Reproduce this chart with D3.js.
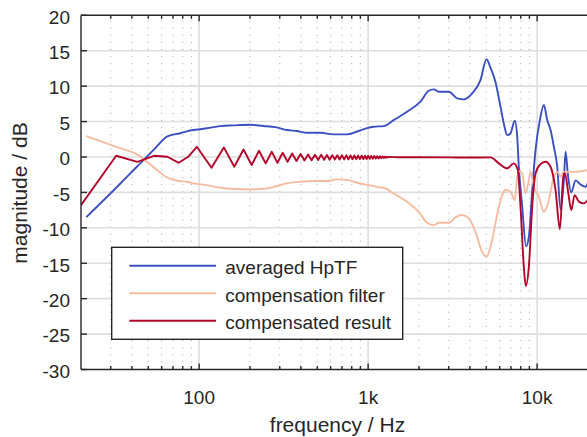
<!DOCTYPE html>
<html><head><meta charset="utf-8">
<script src="https://cdn.jsdelivr.net/npm/d3@7"></script>
<style>
body{margin:0;background:#fff}
text{font-family:"Liberation Sans",Arial,Helvetica,sans-serif;fill:#262626}
</style>
</head><body>
<svg id="c" width="587" height="437"></svg>
<script>
// ---- data ----
const xTickValues = [100, 1000, 10000];
const xTickLabels = ["100", "1k", "10k"];
const yTickValues = [-30, -25, -20, -15, -10, -5, 0, 5, 10, 15, 20];
const seriesNames = ["averaged HpTF", "compensation filter", "compensated result"];

// averaged HpTF  [frequency Hz, magnitude dB]
const hptf = [[21.5,-8.5],[32.3,-4.35],[43.1,-1.31],[54,1.04],[64.9,2.9],[77.2,3.35],[84.6,3.62],[92.5,3.8],
 [101.4,3.92],[111,4.05],[133,4.36],
 [160,4.46],[200,4.55],[240,4.38],[282,4.22],[331,3.8],[379,3.66],[435,3.42],[521,3.42],[625,3.19],[750,3.19],
 [860,3.6],[985,4.08],[1078,4.27],[1236,4.36],[1416,5.2],[1700,6.38],[2038,7.8],[2282,9.35],[2444,9.55],
 [2617,9.2],[3000,9.2],[3364,8.28],[3680,8.13],[4128,8.98],[4622,10.86],[5016,13.8],[5296,12.6],[5670,10.6],
 [6072,7.1],[6380,4.5],[6652,3.09],[6958,3.35],[7378,5.11],[7624,2.85],[7792,-1.38],[8162,-7.03],[8600,-12.6],
 [8934,-11.27],[9354,-4.67],[9788,1.0],[10380,5.2],[10960,7.33],[11480,5.2],[12008,3.8],[12562,1.44],
 [13154,-1.38],[13750,-7.4],[14398,-3.26],[14736,0.73],[15206,-2.5],[15924,-5.0],[16886,-3.3],[18084,-3.9],
 [19356,-4.2],[20000,-3.6]];

// compensation filter
const filter = [[21.5,2.95],[32.3,1.44],[43.6,0.27],[54,-1.47],[64.4,-2.88],[77.2,-3.4],[84.6,-3.5],[92.5,-3.73],
 [106,-3.9],[133,-4.35],[167,-4.53],[200.6,-4.58],[252,-4.44],[289,-4.1],[331,-3.73],[397,-3.5],[476,-3.4],
 [571,-3.4],[654,-3.16],[767,-3.26],[860,-3.64],[1007,-3.97],[1181,-4.3],[1236,-4.35],[1416,-5.14],[1700,-6.33],
 [1992,-7.74],[2234,-9.29],[2444,-9.62],[2617,-9.29],[3000,-9.29],[3286,-8.53],[3600,-8.2],[3940,-8.67],
 [4318,-10.56],[4730,-13.4],[5016,-14.1],[5420,-11.7],[5934,-7.03],[6500,-4.67],[6958,-4.9],[7378,-6.1],
 [7624,-2.8],[7792,-2.0],[8162,-2.3],[8538,-5.14],[8934,-3.3],[9142,-2.1],[9562,-4.2],[10238,-5.6],
 [10960,-7.74],[11734,-6.1],[12562,-2.8],[13268,-2.1],[13766,-2.8],[14282,-2.1],[15084,-2.1],[16500,-2.1],
 [20000,-1.85]];

// compensated result: low-frequency ripple (sharp vertices)
const resultRipple = [[20,-6.8],[32.3,0.17],[43.1,-0.68],[54.1,0.17],[64.9,0.03],[75.8,-0.82],[86.1,0.03],
 [96.9,1.44],[118.4,-1.52],[140.0,1.35],[161.5,-1.38],[183.1,1.05],[204.6,-1.14],[226.1,0.88],[247.7,-0.9],
 [269.2,0.73],[290.7,-0.82],[312.3,0.6],[333.8,-0.68],[355.3,0.5],[376.9,-0.56],[398.4,0.42],[420.0,-0.5],
 [441.5,0.36],[463.0,-0.45],[484.6,0.32],[506.1,-0.42],[527.6,0.3],[549.2,-0.4],[570.7,0.28],[592.2,-0.38],
 [613.8,0.26],[635.3,-0.36],[656.8,0.25],[678.4,-0.35],[699.9,0.24],[721.5,-0.34],[743.0,0.23],[764.5,-0.33],
 [786.1,0.22],[807.6,-0.32],[829.1,0.21],[850.7,-0.31],[872.2,0.2],[893.7,-0.3],[915.3,0.19],[936.8,-0.29],
 [958.4,0.18],[979.9,-0.28],[1001.4,0.17],[1023.0,-0.26],[1044.5,0.15],[1066.0,-0.24],[1087.6,0.13],
 [1109.1,-0.22],[1130.6,0.11],[1152.2,-0.2],[1173.7,0.09],[1195.3,-0.17],[1216.8,0.07],[1238.3,-0.14],
 [1259.9,0.05],[1281.4,-0.11],[1302.9,0.02]];
// compensated result: smooth part
const resultSmooth = [[1302.9,0.02],[1500,-0.03],[2000,-0.03],[3000,-0.05],[4000,-0.08],[5300,-0.05],
 [5934,-0.9],[6652,-1.6],[7278,-0.9],[7686,-1.85],[7974,-7],[8342,-15.5],[8572,-18.2],[8934,-15.5],
 [9354,-7],[9788,-2.3],[10478,-1.0],[11216,-0.67],[12008,-1.38],[12854,-4.67],[13634,-10.2],[14282,-2.8],
 [14598,-2.3],[15290,-5.1],[15924,-7.5],[16658,-5.38],[17668,-6.3],[18914,-6.55],[20000,-6.0]];

// ---- styles ----
const colBlue = "#3c4fc1", colSalmon = "#f5bca1", colRed = "#b2062b", ink = "#262626";
const L = 81, R = 588, T = 15.3, B = 369.5;

const svg = d3.select("#c");
const x = d3.scaleLog().domain([20, 20000]).range([L, R]);
const y = d3.scaleLinear().domain([-30, 20]).range([B, T]);

svg.append("rect").attr("width",587).attr("height",437).attr("fill","#fff");

// minor vertical grid (dotted)
const minor = x.ticks().filter(v => !xTickValues.includes(v) && v > 20 && v < 20000);
svg.append("g").selectAll("line").data(minor).join("line")
  .attr("x1", d => x(d)).attr("x2", d => x(d)).attr("y1", B).attr("y2", T)
  .attr("stroke", "#a8a8a8").attr("stroke-width", 1).attr("stroke-dasharray", "1,6.1");
// major grid
svg.append("g").selectAll("line").data(yTickValues.filter(v => v > -30 && v < 20)).join("line")
  .attr("x1", L).attr("x2", R).attr("y1", d => y(d)).attr("y2", d => y(d))
  .attr("stroke", "#dedede").attr("stroke-width", 1.6);
svg.append("g").selectAll("line").data(xTickValues).join("line")
  .attr("x1", d => x(d)).attr("x2", d => x(d)).attr("y1", B).attr("y2", T)
  .attr("stroke", "#dedede").attr("stroke-width", 1.6);

// curves
svg.append("clipPath").attr("id","clip").append("rect")
  .attr("x", L).attr("y", T).attr("width", R - L).attr("height", B - T);
const g = svg.append("g").attr("clip-path","url(#clip)");
const smooth = d3.line().x(d => x(d[0])).y(d => y(d[1])).curve(d3.curveMonotoneX);
const straight = d3.line().x(d => x(d[0])).y(d => y(d[1]));

g.append("path").attr("d", smooth(hptf)).attr("fill","none").attr("stroke",colBlue).attr("stroke-width",1.9);
g.append("path").attr("d", smooth(filter)).attr("fill","none").attr("stroke",colSalmon).attr("stroke-width",1.9);
g.append("path").attr("d", straight(resultRipple) + smooth(resultSmooth).replace(/^M/, "L"))
  .attr("fill","none").attr("stroke",colRed).attr("stroke-width",1.9).attr("stroke-linejoin","round");

// frame
const frame = svg.append("g").attr("stroke", ink).attr("stroke-width", 1.4);
frame.append("line").attr("x1", L).attr("x2", R).attr("y1", T).attr("y2", T);
frame.append("line").attr("x1", L).attr("x2", R).attr("y1", B).attr("y2", B);
frame.append("line").attr("x1", L).attr("x2", L).attr("y1", T).attr("y2", B);
frame.append("line").attr("x1", R).attr("x2", R).attr("y1", T).attr("y2", B);

// x ticks (inward, top and bottom)
const allX = x.ticks().filter(v => v > 20 && v < 20000);
allX.forEach(v => {
  const len = xTickValues.includes(v) ? 6 : 3.5;
  frame.append("line").attr("x1", x(v)).attr("x2", x(v)).attr("y1", B).attr("y2", B - len);
  frame.append("line").attr("x1", x(v)).attr("x2", x(v)).attr("y1", T).attr("y2", T + len);
});
yTickValues.forEach(v => {
  frame.append("line").attr("x1", L).attr("x2", L + 6).attr("y1", y(v)).attr("y2", y(v));
});

// tick labels
svg.append("g").selectAll("text").data(yTickValues).join("text")
  .attr("x", 70).attr("y", d => y(d) + 8.3).attr("text-anchor","end").attr("font-size", 19)
  .text(d => d);
svg.append("g").selectAll("text").data(xTickValues).join("text")
  .attr("x", d => x(d)).attr("y", 404).attr("text-anchor","middle").attr("font-size", 19)
  .text((d, i) => xTickLabels[i]);

// axis titles
svg.append("text").attr("x", 337.5).attr("y", 431.5).attr("text-anchor","middle").attr("font-size",21)
  .text("frequency / Hz");
svg.append("text").attr("transform","translate(26.5,193) rotate(-90)").attr("text-anchor","middle")
  .attr("font-size",21).text("magnitude / dB");

// legend
const lg = svg.append("g");
lg.append("rect").attr("x",111.7).attr("y",247.3).attr("width",291).attr("height",92)
  .attr("fill","#fff").attr("stroke",ink).attr("stroke-width",1.4);
const legCols = [colBlue, colSalmon, colRed];
seriesNames.forEach((n, i) => {
  const ly = 265.7 + i * 27.5;
  lg.append("line").attr("x1",129.3).attr("x2",216).attr("y1",ly).attr("y2",ly)
    .attr("stroke",legCols[i]).attr("stroke-width",1.9);
  lg.append("text").attr("x",225.3).attr("y",ly + 8.5).attr("font-size",19).text(n);
});
</script>
</body></html>
